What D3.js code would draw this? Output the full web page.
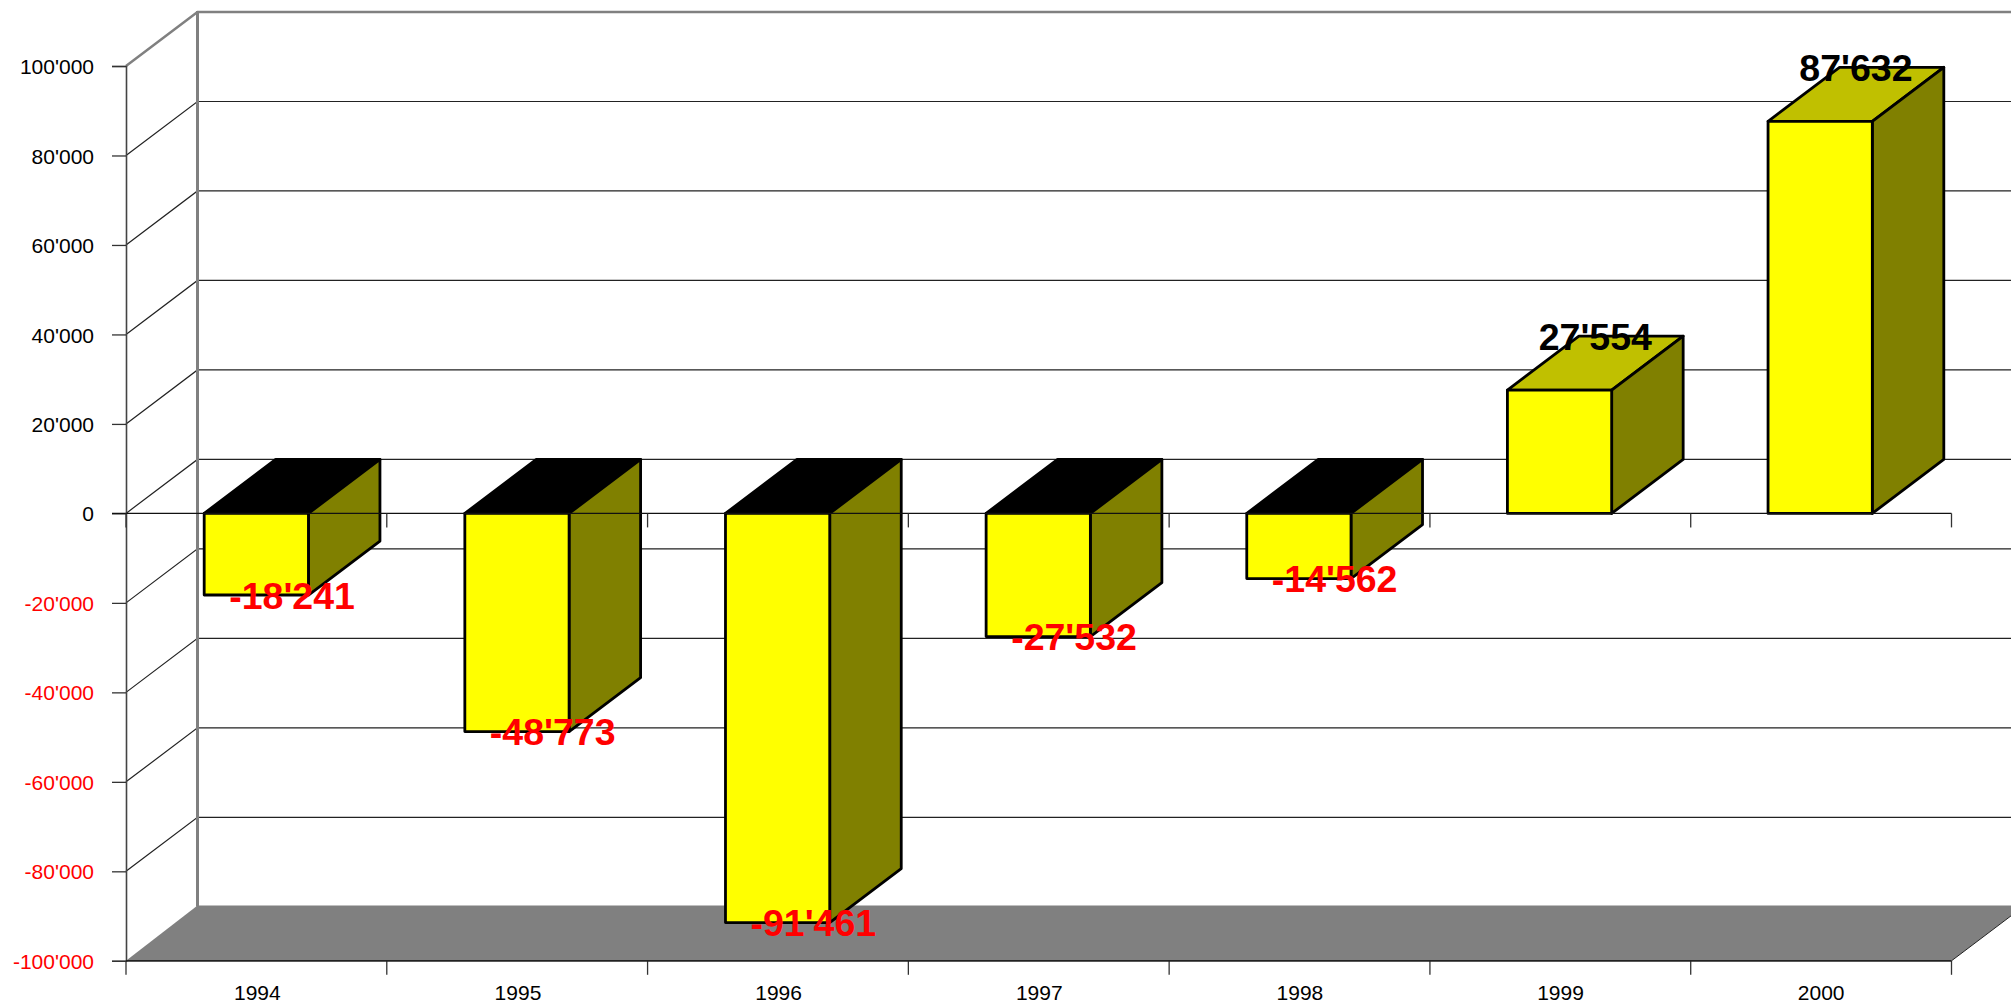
<!DOCTYPE html>
<html><head><meta charset="utf-8">
<script src="https://cdn.jsdelivr.net/npm/d3@7/dist/d3.min.js"></script>
<style>html,body{margin:0;padding:0;background:#fff;overflow:hidden}svg{display:block}text{font-family:"Liberation Sans",Arial,sans-serif}</style>
</head><body><svg id="c" width="2011" height="1005"></svg>
<script>
const years=["1994","1995","1996","1997","1998","1999","2000"];
const profit=[-18241,-48773,-91461,-27532,-14562,27554,87632];
const yTicks=[100000,80000,60000,40000,20000,0,-20000,-40000,-60000,-80000,-100000];
const W=2011,depthX=71.5,depthY=54;
const left=126,right=1951.5,back=left+depthX;
const x=d3.scaleBand().domain(years).range([left,right-1]).paddingInner(0.6).paddingOuter(0.3);
const y=d3.scaleLinear().domain([-100000,100000]).range([960.8,66]);
const fmt=v=>{const s=d3.format(",")(Math.abs(v)).replace(/,/g,"'");return (v<0?"-":"")+s;};
const svg=d3.select("#c");
const grid=svg.append("g");
// floor
grid.append("path").attr("fill","#808080")
  .attr("d",`M${left},${y(-100000)}L${back},${y(-100000)-depthY-1.2}L${W},${y(-100000)-depthY-1.2}L${W},${y(-100000)-(W-right)*depthY/depthX}L${right},${y(-100000)}Z`);
grid.append("line").attr("x1",right).attr("y1",y(-100000)).attr("x2",W).attr("y2",y(-100000)-(W-right)*depthY/depthX).attr("stroke","#222").attr("stroke-width",1);
// gridlines
yTicks.forEach(t=>{
  const p=y(t),isTop=t===100000,isBot=t===-100000;
  if(isBot) return;
  const col=isTop?"#808080":"#222",sw=isTop?2.5:1.2;
  grid.append("path").attr("fill","none").attr("stroke",col).attr("stroke-width",sw)
    .attr("d",`M${left},${p}L${back},${p-depthY}L${W},${p-depthY}`);
});
// back wall edge
grid.append("line").attr("x1",back).attr("x2",back).attr("y1",y(100000)-depthY-1).attr("y2",y(-100000)-depthY).attr("stroke","#808080").attr("stroke-width",3);
// left axis
const gy=svg.append("g").attr("transform",`translate(${left},0)`)
  .call(d3.axisLeft(y).tickValues(yTicks).tickFormat(fmt).tickSize(14).tickPadding(18));
gy.select(".domain").attr("stroke","#444").attr("stroke-width",1.6);
gy.selectAll(".tick line").attr("stroke","#333").attr("stroke-width",1.3);
gy.selectAll(".tick text").attr("font-size",21).attr("font-family","Liberation Sans").attr("dy","0.36em")
  .attr("fill",d=>d<0?"#ff0000":"#000");
// bottom axis (category boundaries)
const edges=d3.range(years.length+1);
const edgeX=d3.scaleLinear().domain([0,years.length]).range([left,right]);
const axisTicks=svg.append("g");
edges.forEach(i=>{
  axisTicks.append("line").attr("x1",edgeX(i)).attr("x2",edgeX(i)).attr("y1",y(-100000)).attr("y2",y(-100000)+14).attr("stroke","#333").attr("stroke-width",1.3);
});
axisTicks.append("line").attr("x1",left).attr("x2",right).attr("y1",y(-100000)).attr("y2",y(-100000)).attr("stroke","#222").attr("stroke-width",1.8);
svg.append("g").selectAll("text").data(years).join("text")
  .attr("x",d=>x(d)+x.bandwidth()/2+1).attr("y",y(-100000)+39)
  .attr("text-anchor","middle").attr("font-size",21).attr("fill","#000").text(d=>d);
// bars
const bars=svg.append("g").attr("stroke","#000").attr("stroke-width",2.8).attr("stroke-linejoin","round");
years.forEach((yr,i)=>{
  const v=profit[i],x0=x(yr),x1=x0+x.bandwidth(),top=y(Math.max(v,0)),bot=y(Math.min(v,0));
  bars.append("path").attr("fill",v<0?"#000":"#c0c000")
    .attr("d",`M${x0},${top}L${x0+depthX},${top-depthY}L${x1+depthX},${top-depthY}L${x1},${top}Z`);
  bars.append("path").attr("fill","#808000")
    .attr("d",`M${x1},${top}L${x1+depthX},${top-depthY}L${x1+depthX},${bot-depthY}L${x1},${bot}Z`);
  bars.append("rect").attr("fill","#ffff00").attr("x",x0).attr("y",top).attr("width",x.bandwidth()).attr("height",bot-top);
});
// zero line with ticks on top of the bars
const zero=svg.append("g");
zero.append("line").attr("x1",left-14).attr("x2",right).attr("y1",y(0)).attr("y2",y(0)).attr("stroke","#111").attr("stroke-width",1.3);
edges.forEach(i=>{
  zero.append("line").attr("x1",edgeX(i)).attr("x2",edgeX(i)).attr("y1",y(0)).attr("y2",y(0)+14).attr("stroke","#333").attr("stroke-width",1.3);
});
// value labels
svg.append("g").selectAll("text").data(profit).join("text")
  .attr("x",(d,i)=>x(years[i])+x.bandwidth()/2+depthX/2)
  .attr("y",d=>d<0?y(d):y(d)-depthY)
  .attr("dy","0.36em").attr("text-anchor","middle")
  .attr("font-size",37.5).attr("font-weight","bold")
  .attr("fill",d=>d<0?"#ff0000":"#000").text(fmt);
</script></body></html>
